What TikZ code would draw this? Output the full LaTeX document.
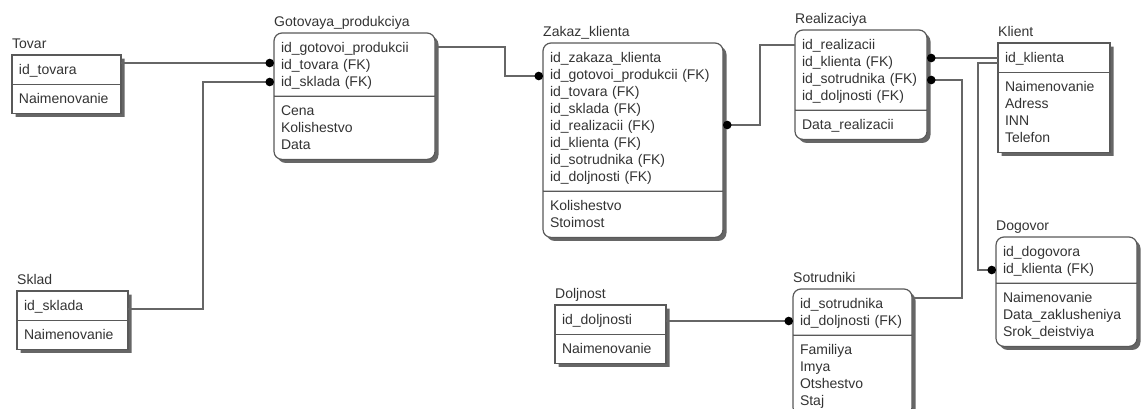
\documentclass[tikz,border=0pt]{standalone}
\usepackage{fontspec}
\setmainfont{Liberation Sans}
\usetikzlibrary{shapes.multipart,shadows,arrows.meta}

% one attribute line of an entity
\newcommand{\fld}[1]{\rule[-4pt]{0pt}{17pt}#1}

\tikzset{
  entity/.style={rectangle split, rectangle split parts=2, anchor=north west,
    draw=black!65, line width=1.2pt, fill=white, text=black!80,
    inner xsep=7pt, inner ysep=5.5pt, outer sep=0pt, align=left,
    drop shadow={shadow xshift=3.5pt, shadow yshift=-3.5pt, fill=black!60, opacity=1}},
  depent/.style={entity, rounded corners=8pt},
  etitle/.style={anchor=base west, inner sep=0pt, text=black!80, yshift=7pt},
  rel/.style={draw=black!60, line width=1.3pt, -{Circle[length=8.5pt,width=8.5pt,color=black]}},
}

\begin{document}
\begin{tikzpicture}[x=1pt, y=-1pt, every node/.style={font=\fontsize{14}{17}\selectfont}]
  \useasboundingbox (0,0) rectangle (1141,408);

  % independent entities
  \node[entity, text width=95pt] (tovar) at (12,55)
    {\fld{id\_tovara}\nodepart{two}\fld{Naimenovanie}};
  \node[etitle] at (tovar.north west) {Tovar};

  \node[entity, text width=97pt] (sklad) at (17,291)
    {\fld{id\_sklada}\nodepart{two}\fld{Naimenovanie}};
  \node[etitle] at (sklad.north west) {Sklad};

  \node[entity, text width=98pt] (klient) at (998,43)
    {\fld{id\_klienta}\nodepart{two}\fld{Naimenovanie}\\\fld{Adress}\\\fld{INN}\\\fld{Telefon}};
  \node[etitle] at (klient.north west) {Klient};

  \node[entity, text width=97pt] (doljn) at (555,305)
    {\fld{id\_doljnosti}\nodepart{two}\fld{Naimenovanie}};
  \node[etitle] at (doljn.north west) {Doljnost};

  % dependent entities
  \node[depent, text width=147pt] (gotov) at (274,33)
    {\fld{id\_gotovoi\_produkcii}\\\fld{id\_tovara (FK)}\\\fld{id\_sklada (FK)}
     \nodepart{two}\fld{Cena}\\\fld{Kolishestvo}\\\fld{Data}};
  \node[etitle] at (gotov.north west) {Gotovaya\_produkciya};

  \node[depent, text width=166pt] (zakaz) at (543,43)
    {\fld{id\_zakaza\_klienta}\\\fld{id\_gotovoi\_produkcii (FK)}\\\fld{id\_tovara (FK)}\\
     \fld{id\_sklada (FK)}\\\fld{id\_realizacii (FK)}\\\fld{id\_klienta (FK)}\\
     \fld{id\_sotrudnika (FK)}\\\fld{id\_doljnosti (FK)}
     \nodepart{two}\fld{Kolishestvo}\\\fld{Stoimost}};
  \node[etitle] at (zakaz.north west) {Zakaz\_klienta};

  \node[depent, text width=118pt] (realiz) at (795,30)
    {\fld{id\_realizacii}\\\fld{id\_klienta (FK)}\\\fld{id\_sotrudnika (FK)}\\\fld{id\_doljnosti (FK)}
     \nodepart{two}\fld{Data\_realizacii}};
  \node[etitle] at (realiz.north west) {Realizaciya};

  \node[depent, text width=127pt] (dogovor) at (996,237)
    {\fld{id\_dogovora}\\\fld{id\_klienta (FK)}
     \nodepart{two}\fld{Naimenovanie}\\\fld{Data\_zaklusheniya}\\\fld{Srok\_deistviya}};
  \node[etitle] at (dogovor.north west) {Dogovor};

  \node[depent, text width=105pt] (sotrud) at (793,289)
    {\fld{id\_sotrudnika}\\\fld{id\_doljnosti (FK)}
     \nodepart{two}\fld{Familiya}\\\fld{Imya}\\\fld{Otshestvo}\\\fld{Staj}};
  \node[etitle] at (sotrud.north west) {Sotrudniki};

  % relationships
  \draw[rel] (tovar.east |- 0,63) -- (gotov.west |- 0,63);
  \draw[rel] (sklad.east |- 0,309) -- ++(75,0) |- (gotov.west |- 0,82);
  \draw[rel] (gotov.east |- 0,47) -- ++(70,0) |- (zakaz.west |- 0,76);
  \draw[rel] (realiz.west |- 0,45) -- ++(-35,0) |- (zakaz.east |- 0,125);
  \draw[rel] (klient.west |- 0,58) -- (realiz.east |- 0,58);
  \draw[rel] (klient.west |- 0,63) -- ++(-20,0) |- (dogovor.west |- 0,270);
  \draw[rel] (sotrud.east |- 0,298) -- ++(50,0) |- (realiz.east |- 0,80);
  \draw[rel] (doljn.east |- 0,321) -- (sotrud.west |- 0,321);
\end{tikzpicture}
\end{document}
